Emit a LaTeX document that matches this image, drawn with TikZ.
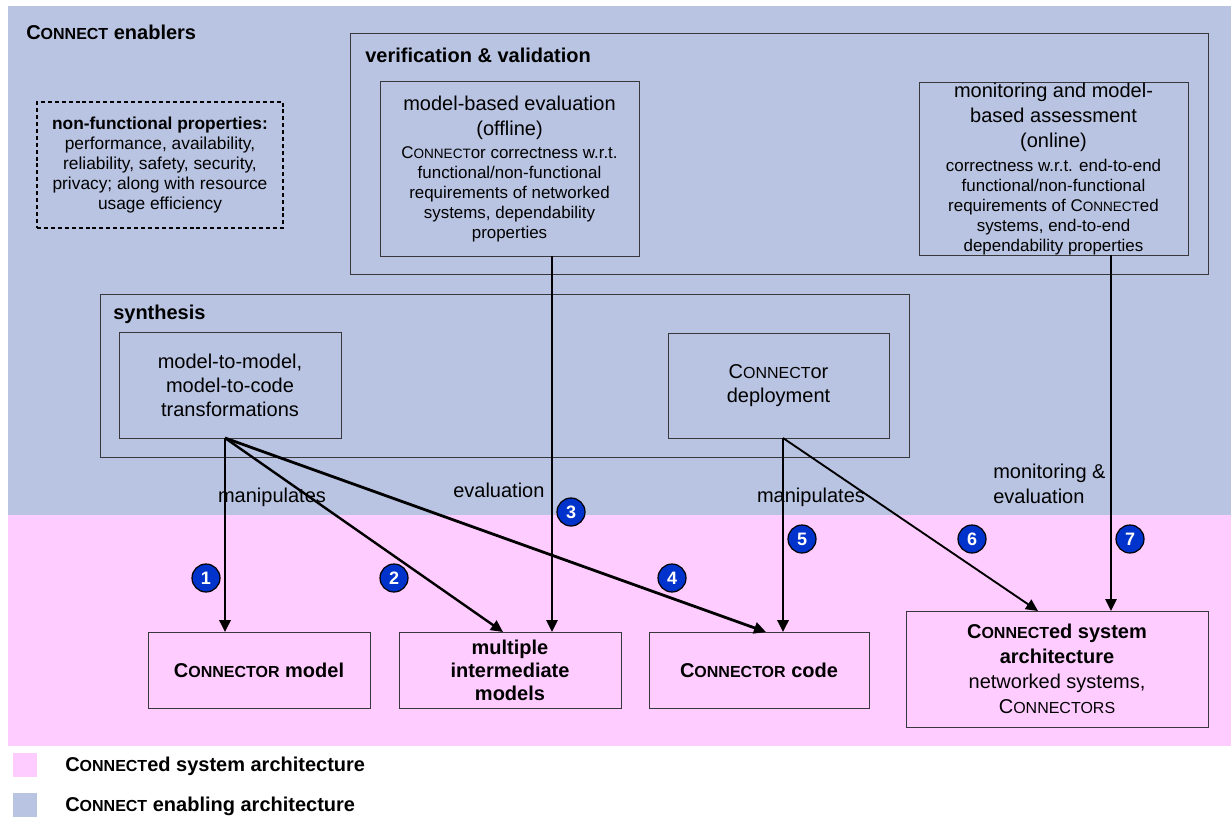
\documentclass[tikz,border=0pt]{standalone}
\usepackage{fontspec}
\setmainfont{Liberation Sans}
\usetikzlibrary{arrows.meta}
\makeatletter
\newcommand\scx[1]{{\fontsize{\fpeval{0.8*\f@size}}{\f@baselineskip}\selectfont #1}}
\makeatother
\newcommand\Lg{\fontsize{15}{18.75}\selectfont}
\definecolor{bgblue}{RGB}{185,196,226}
\definecolor{bgpink}{RGB}{255,204,255}
\definecolor{numblue}{RGB}{0,51,204}
\definecolor{edge}{RGB}{55,55,60}
\begin{document}
\begin{tikzpicture}[x=0.75pt,y=-0.75pt,
  box/.style={draw=edge,line width=0.75pt,inner sep=0pt,outer sep=0pt,align=center},
  sz/.style 2 args={minimum width=#1*0.75pt,minimum height=#2*0.75pt},
  titlef/.style={font=\bfseries\fontsize{15}{18}\selectfont,inner sep=0pt},
  lbl/.style={font=\fontsize{15}{18.75}\selectfont,inner sep=0pt},
  numc/.style={circle,draw=black,line width=0.9pt,fill=numblue,text=white,
    font=\bfseries\fontsize{13.5}{13.5}\selectfont,minimum size=21pt,inner sep=0pt},
  conn/.style={-{Triangle[length=9pt,width=8.5pt]},line width=1.8pt,black},
]
\useasboundingbox (0,0) rectangle (1231,817);
% backgrounds
\fill[bgblue] (8,6) rectangle (1231,515);
\fill[bgpink] (8,515) rectangle (1231,746);
\fill[bgpink] (13,753) rectangle (37,777);
\fill[bgblue] (13,793) rectangle (37,817);

% group boxes
\node[box,sz={858}{240}] (vv) at (779,154) {};
\node[box,sz={809}{163}] (syn) at (504.5,375.5) {};
\node[titlef,anchor=west] (enablers) at (26,32) {C\scx{ONNECT} enablers};
\node[titlef,anchor=west] (vvlab) at (365,55) {verification \& validation};
\node[titlef,anchor=west] (synlab) at (113,314) {synthesis};

% non-functional properties
\node[draw=black,line width=1.2pt,dash pattern=on 3pt off 2.2pt,sz={246}{126},
  inner sep=0pt,align=center,font=\fontsize{13}{15}\selectfont] (nfp) at (160,165)
  {\textbf{non-functional properties:}\\performance, availability,\\reliability, safety, security,\\privacy; along with resource\\usage efficiency};

% verification boxes
\node[box,sz={259}{174},font=\fontsize{12.7}{15}\selectfont] (mbe) at (509.5,169)
  {{\Lg model-based evaluation}\\[3.75pt]{\Lg (offline)}\\[2.5pt]C\scx{ONNECT}or correctness w.r.t.\\functional/non-functional\\requirements of networked\\systems, dependability\\properties};
\node[box,sz={269}{172},font=\fontsize{12.7}{15}\selectfont] (mon) at (1053.5,169)
  {{\Lg monitoring and model-}\\[3.75pt]{\Lg based assessment}\\[3.75pt]{\Lg (online)}\\[2.5pt]correctness w.r.t. end-to-end\\functional/non-functional\\requirements of C\scx{ONNECT}ed\\systems, end-to-end\\dependability properties};

% synthesis boxes
\node[box,sz={222}{106},font=\fontsize{15}{18}\selectfont] (m2m) at (230,385)
  {model-to-model,\\model-to-code\\transformations};
\node[box,sz={221}{105},font=\fontsize{15}{18}\selectfont] (dep) at (778.5,385.5)
  {C\scx{ONNECT}or\\deployment};

% bottom boxes
\node[box,sz={222}{76},font=\bfseries\fontsize{15}{17.25}\selectfont] (cm) at (259,670)
  {C\scx{ONNECTOR} model};
\node[box,sz={222}{76},font=\bfseries\fontsize{15}{17.25}\selectfont] (mim) at (510,670)
  {multiple\\intermediate\\models};
\node[box,sz={220}{76},font=\bfseries\fontsize{15}{17.25}\selectfont] (cc) at (759,670)
  {C\scx{ONNECTOR} code};
\node[box,sz={302}{116},font=\fontsize{15}{18.75}\selectfont] (csa) at (1057,669)
  {{\bfseries C\scx{ONNECT}ed system}\\{\bfseries architecture}\\networked systems,\\C\scx{ONNECTORS}};

% connector end points
\coordinate (m2m-o) at (225,438);
\coordinate (dep-o) at (783,438);
\coordinate (mbe-o) at (552,256);
\coordinate (mon-o) at (1111,255);
\coordinate (cm-i) at (225,632);
\coordinate (mim-i2) at (503,632);
\coordinate (mim-i3) at (552,632);
\coordinate (cc-i4) at (766,632);
\coordinate (cc-i5) at (783,632);
\coordinate (csa-i6) at (1038,611);
\coordinate (csa-i7) at (1111,611);

% edge labels
\node[lbl] (manip1) at (272,497) {manipulates};
\node[lbl] (manip2) at (811,497) {manipulates};
\node[lbl,anchor=west] (evall) at (453,490) {evaluation};
\node[lbl,anchor=north west,align=left] (moneval) at (993,464) {monitoring \&\\evaluation};

% connectors
\draw[conn] (m2m-o) -- (cm-i);
\draw[conn] (m2m-o) -- (mim-i2);
\draw[conn,line width=1.5pt] (mbe-o) -- (mim-i3);
\draw[conn,line width=2.1pt] (m2m-o) -- (cc-i4);
\draw[conn] (dep-o) -- (cc-i5);
\draw[conn,line width=1.4pt] (dep-o) -- (csa-i6);
\draw[conn,line width=1.6pt] (mon-o) -- (csa-i7);

% numbered markers
\node[numc] (n1) at (206,578) {1};
\node[numc] (n2) at (394,578) {2};
\node[numc] (n3) at (571,512) {3};
\node[numc] (n4) at (672,578) {4};
\node[numc] (n5) at (802,539) {5};
\node[numc] (n6) at (972,539) {6};
\node[numc] (n7) at (1130,539) {7};

% legend
\node[anchor=west,inner sep=0pt,font=\bfseries\fontsize{15}{17}\selectfont] (leg1) at (65,766) {C\scx{ONNECT}ed system architecture};
\node[anchor=west,inner sep=0pt,font=\bfseries\fontsize{15}{17}\selectfont] (leg2) at (65,806) {C\scx{ONNECT} enabling architecture};
\end{tikzpicture}
\end{document}
